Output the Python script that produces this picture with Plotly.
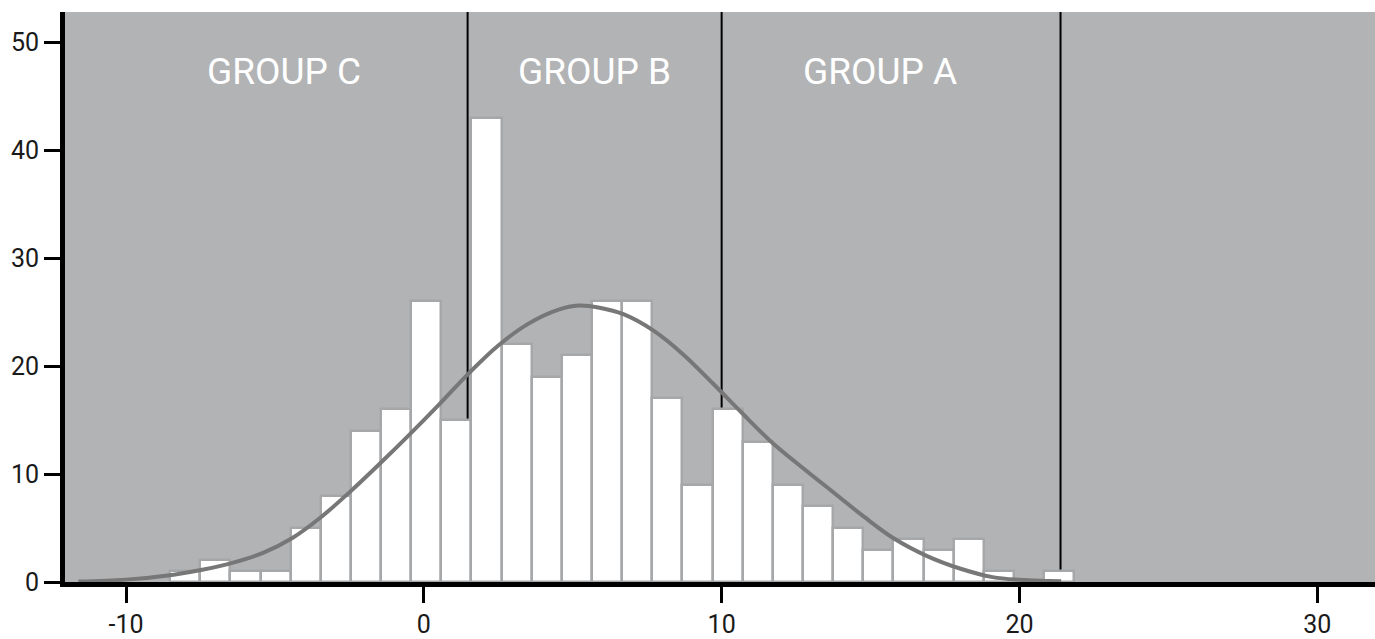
import numpy as np
import plotly.graph_objects as go

# Histogram bins (uniform width) and counts per bin
bin_start = -8.52
bin_width = 1.012
counts = [1, 2, 1, 1, 5, 8, 14, 16, 26, 15, 43, 22, 19, 21, 26, 26, 17, 9,
          16, 13, 9, 7, 5, 3, 4, 3, 4, 1, 0, 1]

# Fitted density curve, sampled points
curve_x = [-11.6, -10.0, -8.4, -7.4, -6.4, -5.4, -4.4, -3.5, -2.5, -1.5, -0.5,
           0.5, 1.5, 2.5, 3.5, 4.5, 5.2, 5.9, 6.7, 7.7, 8.7, 9.7, 10.7, 11.7,
           12.8, 13.8, 14.8, 15.8, 16.9, 18.0, 19.1, 20.0, 21.0, 21.4]
curve_y = [0.05, 0.22, 0.68, 1.15, 1.8, 2.7, 4.1, 5.9, 8.3, 10.9, 13.6,
           16.4, 19.3, 21.9, 23.9, 25.2, 25.6, 25.4, 24.8, 23.3, 21.1, 18.4,
           15.6, 12.9, 10.4, 8.2, 6.0, 4.0, 2.4, 1.25, 0.45, 0.2, 0.1, 0.06]

# Group cut-offs and labels
cutoffs = [1.47, 10.0, 21.38]
group_names = ["GROUP C", "GROUP B", "GROUP A"]
group_label_x = [-4.69, 5.72, 15.32]
group_label_y = 47.3

x_ticks = [-10, 0, 10, 20, 30]
x_tick_text = ["-10", "0", "10", "20", "30"]
y_ticks = [0, 10, 20, 30, 40, 50]

centers = bin_start + bin_width * (np.arange(len(counts)) + 0.5)

fig = go.Figure()
fig.add_trace(go.Bar(
    x=centers, y=counts, width=bin_width,
    marker=dict(color="white", line=dict(color="#a6a7a9", width=2.5)),
    hoverinfo="skip",
))
fig.add_trace(go.Scatter(
    x=curve_x, y=curve_y, mode="lines",
    line=dict(color="#777777", width=4, shape="spline", smoothing=1.0),
    hoverinfo="skip",
))

for cx in cutoffs:
    fig.add_shape(type="line", x0=cx, x1=cx, y0=0, y1=1, xref="x", yref="paper",
                  line=dict(color="black", width=2), layer="below")

for name, gx in zip(group_names, group_label_x):
    fig.add_annotation(x=gx, y=group_label_y, xref="x", yref="y", text=name,
                       showarrow=False, xanchor="center", yanchor="middle",
                       font=dict(family="Roboto", size=37, color="white"))

axis_common = dict(
    showgrid=False, zeroline=False, showline=True, linewidth=5, linecolor="black",
    ticks="outside", tickcolor="black", tickwidth=2.5, ticklen=16,
    tickfont=dict(family="Roboto", size=25, color="#1a1a1a"),
)
fig.update_xaxes(range=[-12.05, 31.94], tickvals=x_ticks, ticktext=x_tick_text,
                 **axis_common)
fig.update_yaxes(range=[0, 52.78], tickvals=y_ticks, **axis_common)

fig.update_layout(
    width=1375, height=639,
    margin=dict(l=65, r=0, t=12, b=57),
    paper_bgcolor="white", plot_bgcolor="#b2b3b5",
    showlegend=False, bargap=0,
)

fig.write_html("out.html")
